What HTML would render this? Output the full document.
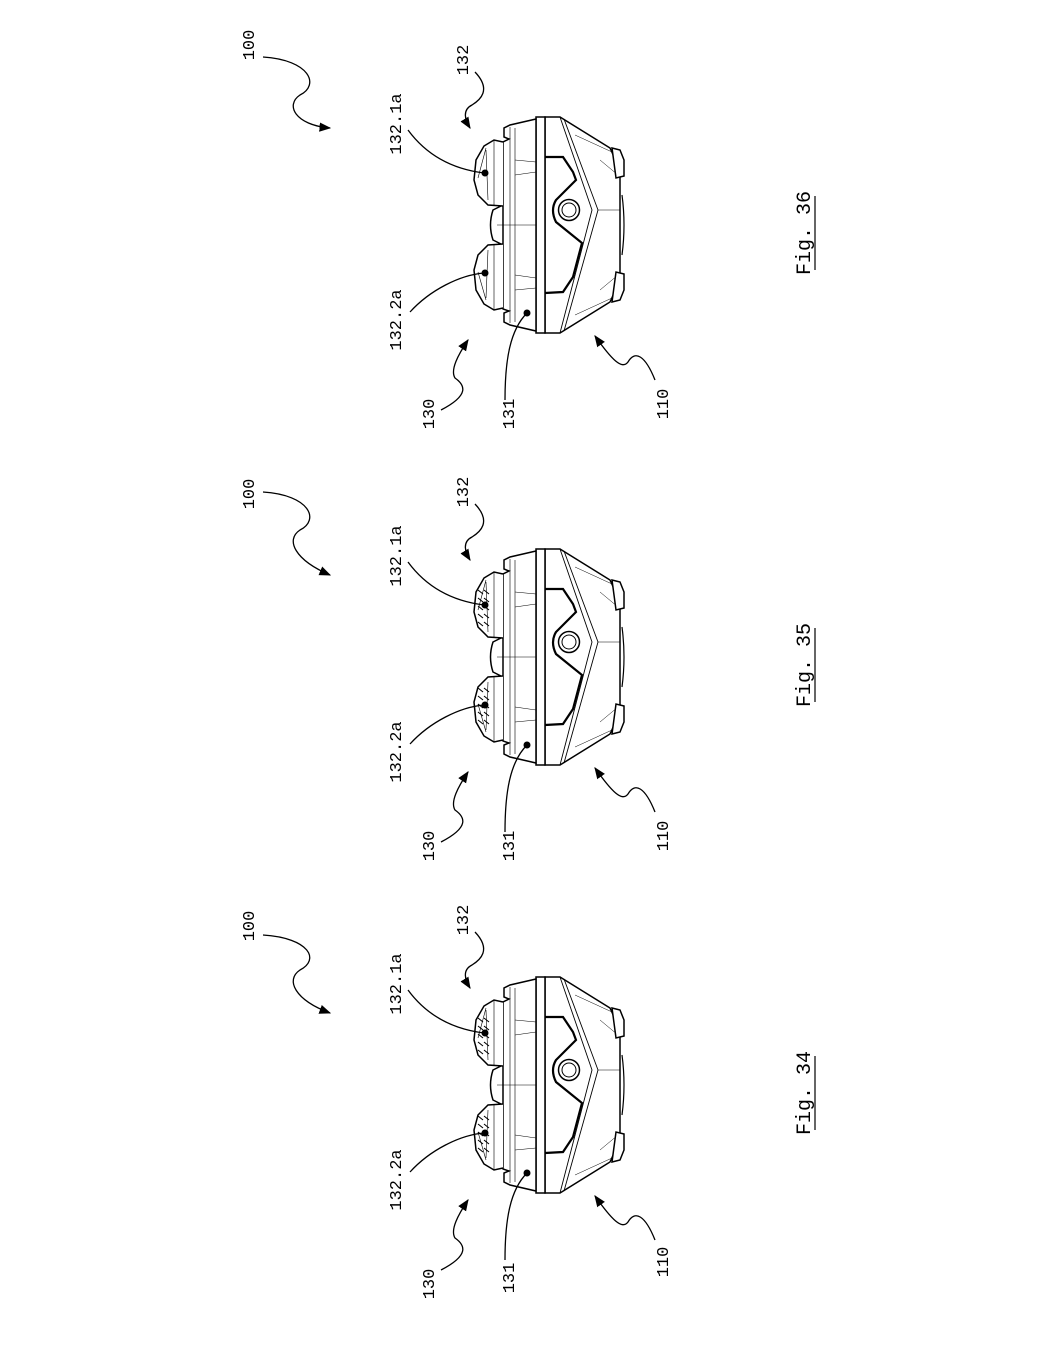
<!DOCTYPE html>
<html><head><meta charset="utf-8"><style>
html,body{margin:0;padding:0;background:#fff}
svg{display:block}
text{font-family:"Liberation Mono","DejaVu Sans Mono",monospace;font-size:17px;fill:#000}
</style></head><body>
<svg width="1050" height="1358" viewBox="0 0 1050 1358" xmlns="http://www.w3.org/2000/svg">
<defs>
<marker id="ar" viewBox="0 0 10 10" refX="9" refY="5" markerWidth="9" markerHeight="9" orient="auto-start-reverse"><path d="M0,1 L10,5 L0,9 Z" fill="#000"/></marker>
<g id="dev" fill="none" stroke="#000">
  <path d="M545,117 L560,117 L610,148 L620,170 L620,280 L610,302 L560,333 L545,333 Z" stroke-width="1.5" fill="#fff"/>
  <path d="M560,117 L592,210 L560,333" stroke-width="0.9"/>
  <path d="M564,119 L598,210 L564,331" stroke-width="0.9"/>
  <path d="M600,160 L618,175 M600,290 L618,275 M575,135 L612,152 M575,315 L612,298 M598,210 L620,210" stroke-width="0.5"/>
  <path d="M612,148 L620,150 L624,160 L624,176 L616,178 Z" stroke-width="1.5" fill="#fff"/>
  <path d="M612,302 L620,300 L624,290 L624,274 L616,272 Z" stroke-width="1.5" fill="#fff"/>
  <path d="M622,195 Q626,225 622,255" stroke-width="1.2"/>
  <path d="M545,157 L563,157 L573,172 L576,180 L556,200 Q550,210 556,222 L582,243 L573,277 L563,292 L545,293" stroke-width="2.2"/>
  <circle cx="569" cy="210" r="10.5" stroke-width="1.5"/>
  <circle cx="569" cy="210" r="7" stroke-width="1"/>
  <rect x="536" y="117" width="9" height="216" stroke-width="1.5" fill="#fff"/>
  <path d="M536,119 L510,125 L504,128 L504,137 L509,139 L503,142 L503,309 L509,311 L504,313 L504,322 L510,325 L536,331 Z" stroke-width="1.5" fill="#fff"/>
  <path d="M510,127 L510,323 M515,128 L515,322" stroke-width="0.6"/>
  <path d="M497,225 L536,225 M515,160 L536,162 M515,290 L536,288 M515,175 L536,172 M515,275 L536,278" stroke-width="0.5"/>
  <path d="M503,205 L493,210 Q488,225 493,240 L503,245" stroke-width="1.5"/>
  <path d="M503,142 L494,140 L484,146 L476,160 L474,180 L478,195 L488,205 L503,206" stroke-width="1.5" fill="#fff"/>
  <path d="M494,140 L494,206 M486,148 L478,178 M486,150 L488,200" stroke-width="0.6"/>
  <path d="M503,244 L488,245 L478,255 L474,270 L476,290 L484,304 L494,310 L503,308" stroke-width="1.5" fill="#fff"/>
  <path d="M494,244 L494,310 M486,300 L478,272 M486,298 L488,250" stroke-width="0.6"/>
</g>
<g id="grid">
  <g stroke="#000" stroke-width="1.1">
  <path d="M478,158 l5,4 M484,158 l5,4 M478,166 l5,4 M484,166 l5,4 M478,174 l5,4 M484,174 l5,4 M478,182 l5,4 M484,182 l5,4 M478,190 l5,4 M484,190 l5,4"/>
  <path d="M478,256 l5,4 M484,256 l5,4 M478,264 l5,4 M484,264 l5,4 M478,272 l5,4 M484,272 l5,4 M478,280 l5,4 M484,280 l5,4 M478,288 l5,4 M484,288 l5,4"/>
  </g>
</g>
</defs>

<g>
<use href="#dev"/>
<g fill="none" stroke="#000" stroke-width="1.3">
<path d="M263,57 C310,60 320,85 300,95 C285,105 295,125 330,128" marker-end="url(#ar)"/>
<path d="M475,72 C492,90 480,100 472,105 C462,110 465,120 470,128" marker-end="url(#ar)"/>
<path d="M441,410 C470,395 465,385 455,378 C450,370 458,355 468,340" marker-end="url(#ar)"/>
<path d="M655,380 C645,355 635,350 628,362 C622,370 612,360 595,336" marker-end="url(#ar)"/>
<path d="M408,130 C430,160 460,170 484,173"/>
<path d="M410,312 C430,290 460,275 484,273"/>
<path d="M505,400 C505,360 510,330 527,313"/>
</g>
<g fill="#000"><circle cx="485" cy="173" r="3.5"/><circle cx="485" cy="273" r="3.5"/><circle cx="527" cy="313" r="3.5"/></g>
<text transform="translate(254,45) rotate(-90)" text-anchor="middle">100</text>
<text transform="translate(468,60) rotate(-90)" text-anchor="middle">132</text>
<text transform="translate(401,124) rotate(-90)" text-anchor="middle">132.1a</text>
<text transform="translate(401,320) rotate(-90)" text-anchor="middle">132.2a</text>
<text transform="translate(434,414) rotate(-90)" text-anchor="middle">130</text>
<text transform="translate(514,414) rotate(-90)" text-anchor="middle">131</text>
<text transform="translate(668,404) rotate(-90)" text-anchor="middle">110</text>
<text transform="translate(810,233) rotate(-90)" text-anchor="middle" style="font-size:20px">Fig. 36</text>
<line x1="815" y1="196" x2="815" y2="270" stroke="#000" stroke-width="1.2"/>
</g>

<g>
<g transform="translate(0,432)"><use href="#dev"/><use href="#grid"/>
<g fill="none" stroke="#000" stroke-width="1.3">
<path d="M263,60 C310,63 320,88 300,98 C285,108 295,128 330,143" marker-end="url(#ar)"/>
<path d="M475,72 C492,90 480,100 472,105 C462,110 465,120 470,128" marker-end="url(#ar)"/>
<path d="M441,410 C470,395 465,385 455,378 C450,370 458,355 468,340" marker-end="url(#ar)"/>
<path d="M655,380 C645,355 635,350 628,362 C622,370 612,360 595,336" marker-end="url(#ar)"/>
<path d="M408,130 C430,160 460,170 484,173"/>
<path d="M410,312 C430,290 460,275 484,273"/>
<path d="M505,400 C505,360 510,330 527,313"/>
</g>
<g fill="#000"><circle cx="485" cy="173" r="3.5"/><circle cx="485" cy="273" r="3.5"/><circle cx="527" cy="313" r="3.5"/></g>
</g>
<text transform="translate(254,494) rotate(-90)" text-anchor="middle">100</text>
<text transform="translate(468,492) rotate(-90)" text-anchor="middle">132</text>
<text transform="translate(401,556) rotate(-90)" text-anchor="middle">132.1a</text>
<text transform="translate(401,752) rotate(-90)" text-anchor="middle">132.2a</text>
<text transform="translate(434,846) rotate(-90)" text-anchor="middle">130</text>
<text transform="translate(514,846) rotate(-90)" text-anchor="middle">131</text>
<text transform="translate(668,836) rotate(-90)" text-anchor="middle">110</text>
<text transform="translate(810,665) rotate(-90)" text-anchor="middle" style="font-size:20px">Fig. 35</text>
<line x1="815" y1="628" x2="815" y2="702" stroke="#000" stroke-width="1.2"/>
</g>

<g>
<g transform="translate(0,860)"><use href="#dev"/><use href="#grid"/>
<g fill="none" stroke="#000" stroke-width="1.3">
<path d="M263,75 C310,78 320,100 300,110 C285,120 295,140 330,153" marker-end="url(#ar)"/>
<path d="M475,72 C492,90 480,100 472,105 C462,110 465,120 470,128" marker-end="url(#ar)"/>
<path d="M441,410 C470,395 465,385 455,378 C450,370 458,355 468,340" marker-end="url(#ar)"/>
<path d="M655,380 C645,355 635,350 628,362 C622,370 612,360 595,336" marker-end="url(#ar)"/>
<path d="M408,130 C430,160 460,170 484,173"/>
<path d="M410,312 C430,290 460,275 484,273"/>
<path d="M505,400 C505,360 510,330 527,313"/>
</g>
<g fill="#000"><circle cx="485" cy="173" r="3.5"/><circle cx="485" cy="273" r="3.5"/><circle cx="527" cy="313" r="3.5"/></g>
</g>
<text transform="translate(254,926) rotate(-90)" text-anchor="middle">100</text>
<text transform="translate(468,920) rotate(-90)" text-anchor="middle">132</text>
<text transform="translate(401,984) rotate(-90)" text-anchor="middle">132.1a</text>
<text transform="translate(401,1180) rotate(-90)" text-anchor="middle">132.2a</text>
<text transform="translate(434,1284) rotate(-90)" text-anchor="middle">130</text>
<text transform="translate(514,1278) rotate(-90)" text-anchor="middle">131</text>
<text transform="translate(668,1262) rotate(-90)" text-anchor="middle">110</text>
<text transform="translate(810,1093) rotate(-90)" text-anchor="middle" style="font-size:20px">Fig. 34</text>
<line x1="815" y1="1056" x2="815" y2="1130" stroke="#000" stroke-width="1.2"/>
</g>
</svg>
</body></html>
